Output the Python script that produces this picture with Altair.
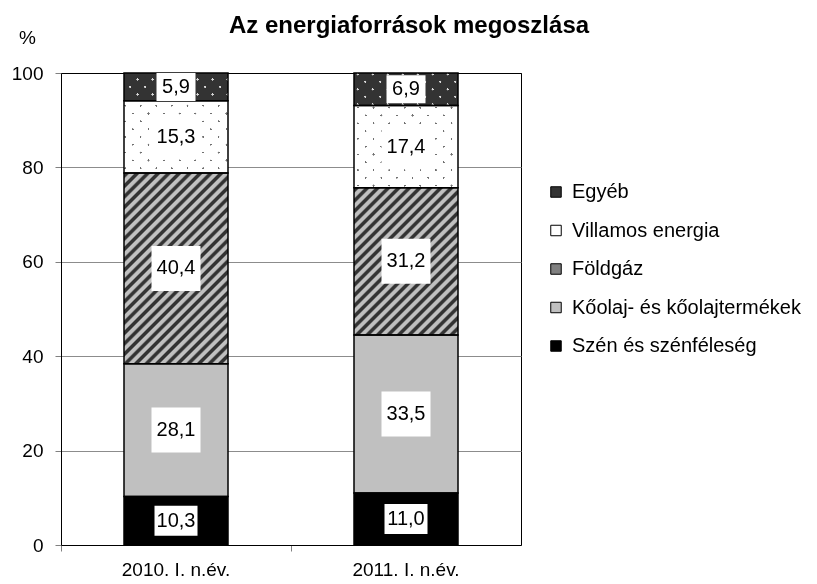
import json
import altair as alt
import pandas as pd

# ---- data ----
years = ["2010. I. n.év.", "2011. I. n.év."]
sources = ["Szén és szénféleség", "Kőolaj- és kőolajtermékek", "Földgáz",
           "Villamos energia", "Egyéb"]          # bottom -> top
values_2010 = [10.3, 28.1, 40.4, 15.3, 5.9]
values_2011 = [11.0, 33.5, 31.2, 17.4, 6.9]
legend_order = ["Egyéb", "Villamos energia", "Földgáz",
                "Kőolaj- és kőolajtermékek", "Szén és szénféleség"]
legend_colors = ["#333333", "#ffffff", "#808080", "#c0c0c0", "#000000"]
y_ticks = [0, 20, 40, 60, 80, 100]

rows = []
for yr, vals in zip(years, [values_2010, values_2011]):
    for i, (s, v) in enumerate(zip(sources, vals)):
        rows.append({"year": yr, "source": s, "value": v, "order": i})
df = pd.DataFrame(rows)

FONT = "Liberation Sans"
PLOT_W, PLOT_H = 460, 472
BAR_W = 104
PPU = PLOT_H / 100.0


def stripes(W, H, period, width, direction, bg, fg, phase=0.0, soft=0.6):
    L = W + H
    k = L / (W * W + H * H)
    if direction == "/":
        x1, y1, x2, y2 = 0, 0, k * W, k * H
    else:
        x1, y1, x2, y2 = 0, 1, k * W, 1 - k * H
    stops = [(0.0, bg)]
    c = phase
    while c - width / 2 - soft < L:
        a = (c - width / 2) / L
        b = (c + width / 2) / L
        s = soft / L
        for off, col in [(a - s, bg), (a, fg), (b, fg), (b + s, bg)]:
            off = min(max(off, 0.0), 1.0)
            if off >= stops[-1][0]:
                stops.append((off, col))
        c += period
    stops.append((1.0, bg))
    return {
        "gradient": "linear", "x1": x1, "y1": y1, "x2": x2, "y2": y2,
        "stops": [{"offset": round(o, 5), "color": col} for o, col in stops],
    }


yaxis = alt.Axis(values=y_ticks, title="%", titleAngle=0, titleAlign="center",
                 titleBaseline="alphabetic", titleX=-34, titleY=-30,
                 titleFontSize=19, titleFont=FONT, titleFontWeight="normal",
                 titleColor="black", labelFontSize=19, labelFont=FONT,
                 labelColor="black", labelPadding=12, tickSize=6,
                 tickColor="#808080", domainColor="black", domainWidth=1,
                 gridColor={"condition": {"test": "datum.value === 100", "value": "black"},
                            "value": "#8c8c8c"},
                 gridWidth=1)
yscale = alt.Scale(domain=[0, 100], nice=False, zero=True)
x_enc = alt.X("year:N", sort=years,
              scale=alt.Scale(paddingInner=0, paddingOuter=0),
              axis=alt.Axis(title=None, labels=False, bandPosition=0,
                            tickColor="#808080", tickSize=6,
                            domainColor="black", domainWidth=1))


def Y(field):
    return alt.Y(field, scale=yscale, axis=yaxis)


base = alt.Chart(df).transform_stack(
    stack="value", groupby=["year"], as_=["y0", "y1"],
    sort=[alt.SortField("order", "ascending")],
).transform_calculate(
    mid="(datum.y0 + datum.y1) / 2",
    label="replace(format(datum.value, '.1f'), '.', ',')",
    bw="datum.value >= 12 ? 49 : (datum.value >= 8 ? 43 : 39)",
    bh="datum.value >= 12 ? 45 : (datum.value >= 8 ? 30 : 28)",
).transform_calculate(
    b0=f"datum.mid - datum.bh / 2 / {PPU}",
    b1=f"datum.mid + datum.bh / 2 / {PPU}",
)

layers = []
# solid base bars (carry the legend)
layers.append(base.mark_bar(size=BAR_W).encode(
    x=x_enc, y=Y("y1:Q"), y2="y0:Q",
    color=alt.Color("source:N",
                    scale=alt.Scale(domain=legend_order, range=legend_colors),
                    legend=alt.Legend(title=None, orient="none", legendX=485,
                                      legendY=109, symbolType="square",
                                      symbolSize=110, symbolStrokeColor="black",
                                      symbolStrokeWidth=1, symbolOpacity=1,
                                      labelFontSize=20, labelFont=FONT,
                                      labelColor="black", rowPadding=18.5,
                                      labelOffset=6, labelLimit=400, padding=0)),
))


def seg_layer(yr, src, fill, blend=None):
    test = f"datum.year === {json.dumps(yr)} && datum.source === {json.dumps(src)}"
    kw = {"size": BAR_W, "fill": fill}
    if blend:
        kw["blend"] = blend
    return base.transform_filter(test).mark_bar(**kw).encode(
        x=x_enc, y=Y("y1:Q"), y2="y0:Q")


for yr, vals in zip(years, [values_2010, values_2011]):
    # hatched natural gas
    Hf = vals[2] * PPU
    layers.append(seg_layer(yr, "Földgáz",
                            stripes(BAR_W, Hf, 10.5, 3.2, "/", "#c0c0c0", "#333333",
                                    phase=3, soft=1.8)))
    # dotted electricity (white with grey dots)
    Hv = vals[3] * PPU
    layers.append(seg_layer(yr, "Villamos energia",
                            stripes(BAR_W, Hv, 15.6, 2.0, "/", "#ffffff", "#707070", phase=6,
                                    soft=0.3)))
    layers.append(seg_layer(yr, "Villamos energia",
                            stripes(BAR_W, Hv, 15.6, 2.0, "\\", "#ffffff", "#707070", phase=6,
                                    soft=0.3),
                            blend="lighten"))
    # dotted other (dark with light dots)
    He = vals[4] * PPU
    layers.append(seg_layer(yr, "Egyéb",
                            stripes(BAR_W, He, 15.0, 2.0, "/", "#333333", "#d8d8d8", phase=5)))
    layers.append(seg_layer(yr, "Egyéb",
                            stripes(BAR_W, He, 15.0, 2.0, "\\", "#333333", "#d8d8d8", phase=5),
                            blend="darken"))

# segment outlines
layers.append(base.mark_bar(size=BAR_W, fill="transparent", stroke="black",
                            strokeWidth=1.5).encode(x=x_enc, y=Y("y1:Q"), y2="y0:Q"))
# white label boxes
layers.append(base.mark_bar(fill="white").encode(
    x=x_enc, y=Y("b1:Q"), y2="b0:Q", size=alt.Size("bw:Q", scale=None)))
# value labels
layers.append(base.mark_text(fontSize=20, font=FONT, color="black").encode(
    x=x_enc, y=Y("mid:Q"), text="label:N"))
# category labels under the axis
layers.append(alt.Chart(pd.DataFrame({"year": years})).mark_text(
    fontSize=19, font=FONT, color="black", baseline="alphabetic").encode(
    x=x_enc, y=alt.value(PLOT_H + 31), text="year:N"))

chart = alt.layer(*layers).properties(
    width=PLOT_W, height=PLOT_H,
    autosize=alt.AutoSizeParams(type="none"),
    padding={"left": 53, "top": 65, "right": 287, "bottom": 36},
    title=alt.TitleParams("Az energiaforrások megoszlása", fontSize=24, font=FONT,
                          fontWeight="bold", color="black", anchor="middle",
                          frame="group", dx=118, dy=10, offset=0),
).configure_view(stroke="black", strokeWidth=1)

chart.save("out.html", embed_options={"renderer": "svg", "actions": False})
